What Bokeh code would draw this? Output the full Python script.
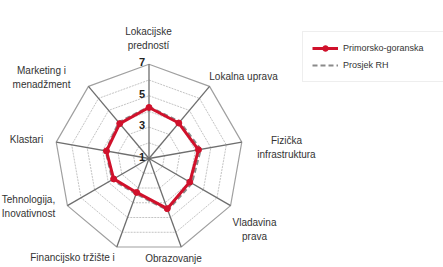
import math
from bokeh.plotting import figure
from bokeh.models import Range1d, Legend, LegendItem, ColumnDataSource
from bokeh.core.properties import value
from bokeh.embed import file_html
from bokeh.resources import INLINE

categories = ["Lokacijske\npredností", "Lokalna uprava", "Fizička\ninfrastruktura",
              "Vladavina\nprava", "Obrazovanje", "Financijsko tržište i\nlokalno bankarstvo",
              "Tehnologija,\nInovativnost", "Klastari", "Marketing i\nmenadžment"]
primorsko = [4.25, 3.95, 4.2, 4.0, 4.4, 3.3, 3.6, 3.75, 3.9]
prosjek = [4.3, 4.05, 4.35, 4.15, 4.5, 3.4, 3.7, 3.8, 4.0]
tick_values = [1, 3, 5, 7]
grid_values = [2, 3, 4, 5, 6, 7]
r_min, r_max = 1, 7

FONT = "Liberation Sans Narrow, Arial Narrow, Liberation Sans, sans-serif"
RED = "#d0112b"
GRAY = "#8a8a8a"

n = len(categories)
angles = [math.radians(90 - 40 * i) for i in range(n)]

def xy(vals):
    xs = [(v - r_min) * math.cos(a) for v, a in zip(vals, angles)]
    ys = [(v - r_min) * math.sin(a) for v, a in zip(vals, angles)]
    return xs + xs[:1], ys + ys[:1]

# pixel -> data mapping (1 unit = 15.7 px, center at image (148.5,158))
S = 15.7
CX, CY = 148.5, 158.0
W, H = 443, 267
def dx(px): return (px - CX) / S
def dy(py): return (CY - py) / S

p = figure(width=W, height=H, output_backend="svg", toolbar_location=None,
           x_range=Range1d(dx(0), dx(W)), y_range=Range1d(dy(H), dy(0)),
           min_border=0)
p.axis.visible = False
p.grid.visible = False
p.outline_line_color = None
p.background_fill_color = "white"

# rings
for g in grid_values:
    gx, gy = xy([g] * n)
    if g == r_max:
        p.line(gx, gy, line_color="#a0a0a0", line_width=1.2)
    else:
        p.line(gx, gy, line_color="#c4c4c4", line_width=1, line_dash="2 1")

# spokes
ox, oy = xy([r_max] * n)
p.segment([0] * n, [0] * n, ox[:n], oy[:n], line_color="#6e6e6e", line_width=1.3)

# series
gx, gy = xy(prosjek)
r_gray = p.line(gx, gy, line_color=GRAY, line_width=2.2, line_dash="5 3")
rx, ry = xy(primorsko)
r_red = p.line(rx, ry, line_color=RED, line_width=3)
r_redm = p.scatter(rx[:n], ry[:n], size=6, fill_color=RED, line_color=RED)

# tick labels
p.text([-0.25] * len(tick_values), [t - r_min for t in tick_values],
       text=[str(t) for t in tick_values], text_align="right", text_baseline="middle",
       y_offset=-2, text_font=value(FONT), text_font_size="11px", text_font_style="bold",
       text_color="#222222")

# category labels (positions in image pixels)
label_pos = [(148, 38), (243, 76), (286, 147),
             (254, 229), (173, 258), (72, 264),
             (28, 206), (26, 139), (41, 77)]
src = ColumnDataSource(dict(
    x=[dx(a) for a, b in label_pos], y=[dy(b) for a, b in label_pos],
    t=categories))
p.text("x", "y", text="t", source=src, text_align="center", text_baseline="middle",
       text_font=value(FONT), text_font_size="10px", text_color="#333333",
       text_line_height=1.35)

legend = Legend(items=[LegendItem(label="Primorsko-goranska", renderers=[r_red, r_redm]),
                       LegendItem(label="Prosjek RH", renderers=[r_gray])],
                location=(302, 185), label_text_font=FONT, label_text_font_size="9px",
                label_text_color="#333333", glyph_width=26, glyph_height=14,
                label_height=14, label_width=110, spacing=3, padding=9, margin=0,
                border_line_color="#dddddd", background_fill_alpha=1.0)
p.add_layout(legend)

open("out.html", "w").write(file_html(p, INLINE))
